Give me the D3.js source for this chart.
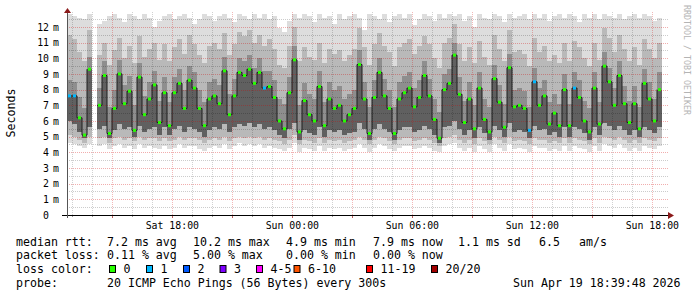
<!DOCTYPE html>
<html>
<head>
<meta charset="utf-8">
<script src="https://cdn.jsdelivr.net/npm/d3@7"></script>
<style>
  body { margin: 0; background: #fff; }
  text { font-family: "DejaVu Sans Mono", monospace; }
</style>
</head>
<body>
<script>
// median rtt per 15 min sample (ms), null = no data
const med = [
  7.6, 7.6, 6.2, 5.1, 9.3, null, 7.0, 8.9, 5.2, 6.8,
  9.0, 7.1, 7.9, 5.4, 8.8, 6.4, 7.4, 8.3, 5.9, 7.8,
  5.7, 7.8, 8.4, 6.8, 8.6, 8.1, 6.8, 5.7, 7.4, 7.6,
  7.1, 9.2, 6.4, 7.6, 9.1, 8.9, 9.3, 8.4, 9.1, 8.1,
  8.2, 7.5, 6.0, 5.5, 7.8, 9.9, 5.3, 7.3, 6.4, 6.0,
  8.2, 5.7, 7.4, 6.8, 7.0, 6.0, 6.4, 6.8, 9.6, 7.4,
  5.2, 7.5, 9.1, 7.6, 6.8, 5.2, 7.4, 7.8, 8.1, 6.9,
  7.5, 8.9, 7.6, 6.1, 4.9, 8.0, 8.4, 10.2, 7.7, 5.9,
  7.4, 5.5, 8.1, 6.1, 5.3, 8.7, 7.2, 5.6, 9.4, 6.9,
  7.0, 6.8, 5.4, 8.5, 7.0, 7.6, 5.8, 6.5, 5.7, 8.0,
  5.7, 8.1, 7.5, 6.0, 5.3, 8.1, 5.8, 9.5, 8.5, 7.0,
  8.9, 7.1, 5.9, 7.1, 5.5, 8.4, 7.4, 6.0, 8.0
];
// lost pings out of 20
const loss = [
  1, 1, 0, 0, 0, 0, 0, 0, 0, 0,
  0, 0, 0, 0, 0, 0, 0, 0, 0, 0,
  0, 0, 0, 0, 0, 0, 0, 0, 0, 0,
  0, 0, 0, 0, 0, 0, 0, 0, 0, 1,
  0, 0, 0, 0, 0, 0, 0, 0, 0, 0,
  0, 0, 0, 0, 0, 0, 0, 0, 0, 0,
  0, 0, 0, 0, 0, 0, 0, 0, 0, 0,
  0, 0, 0, 0, 0, 0, 0, 0, 0, 0,
  0, 0, 0, 0, 0, 0, 0, 0, 0, 0,
  0, 0, 1, 1, 0, 0, 0, 0, 0, 0,
  0, 1, 0, 0, 0, 0, 0, 0, 0, 0,
  0, 0, 0, 0, 0, 0, 0, 0, 0
];
// smoke: ping distribution per sample
const p100 = [
  12.8, 12.7, 12.6, 12.5, 12.8, null, 12.2, 12.4, 12.7, 12.8,
  12.6, 12.3, 12.8, 12.7, 12.5, 12.8, 12.6, 12.0, 12.4, 12.7,
  12.8, 12.5, 12.7, 12.8, 12.6, 12.2, 12.5, 12.8, 12.7, 12.4,
  12.7, 12.8, 12.6, 12.3, 12.8, 12.7, 12.5, 12.8, 12.6, 12.8,
  12.5, 12.7, 11.9, 11.7, 12.4, 12.8, 12.6, 12.8, 12.7, 12.3,
  12.8, 12.6, 12.7, 12.2, 12.8, 12.5, 12.7, 12.8, 12.6, 11.8,
  12.8, 12.7, 12.5, 12.8, 12.3, 12.7, 12.8, 12.6, 12.8, 12.1,
  12.5, 12.8, 12.7, 12.4, 12.8, 12.6, 12.8, 12.7, 12.8, 12.4,
  12.7, 12.0, 12.8, 12.6, 12.5, 12.8, 12.7, 12.3, 12.8, 12.6,
  12.7, 12.8, 12.5, 12.8, 12.6, 12.8, 12.4, 12.7, 12.8, 12.6,
  12.8, 12.7, 12.3, 12.8, 12.6, 12.8, 12.5, 12.8, 12.7, 12.6,
  12.8, 12.5, 12.7, 12.8, 12.6, 12.8, 12.7, 12.4, 12.6
];
const p90 = [
  11.5, 11.2, 10.4, 9.8, 11.8, null, 10.2, 11.0, 9.6, 10.5,
  11.3, 10.0, 10.8, 9.7, 11.4, 10.1, 10.6, 11.0, 9.9, 10.9,
  9.8, 10.7, 11.2, 10.3, 11.5, 10.9, 10.2, 9.7, 10.8, 11.0,
  10.6, 11.6, 10.2, 10.9, 11.7, 11.4, 11.8, 11.0, 11.5, 10.8,
  11.2, 10.6, 9.6, 9.4, 10.8, 12.0, 9.8, 10.7, 10.1, 9.9,
  11.0, 9.7, 10.6, 10.3, 10.5, 9.8, 10.2, 10.6, 11.9, 10.7,
  9.6, 10.9, 11.6, 10.8, 10.4, 9.5, 10.7, 11.0, 11.2, 10.3,
  10.8, 11.4, 10.9, 10.0, 9.4, 11.0, 11.3, 12.2, 10.9, 9.8,
  10.7, 9.7, 11.1, 10.1, 9.6, 11.5, 10.6, 9.8, 11.8, 10.4,
  10.5, 10.3, 9.5, 11.3, 10.4, 10.8, 9.8, 10.2, 9.7, 11.0,
  9.8, 11.1, 10.7, 10.0, 9.5, 11.0, 9.9, 11.9, 11.3, 10.4,
  11.5, 10.6, 9.8, 10.7, 9.6, 11.2, 10.6, 10.0, 11.0
];
const p75 = [
  8.6, 8.5, 7.5, 6.8, 10.1, null, 8.1, 9.8, 6.9, 8.0,
  9.9, 8.3, 8.9, 7.0, 9.7, 7.6, 8.5, 9.2, 7.3, 8.8,
  7.2, 8.8, 9.3, 8.0, 9.5, 9.1, 8.0, 7.2, 8.5, 8.7,
  8.3, 10.1, 7.7, 8.7, 10.0, 9.8, 10.2, 9.4, 10.0, 9.2,
  9.2, 8.6, 7.4, 7.1, 8.8, 10.8, 7.0, 8.4, 7.7, 7.4,
  9.2, 7.2, 8.5, 8.0, 8.2, 7.4, 7.7, 8.0, 10.5, 8.5,
  6.9, 8.6, 10.0, 8.7, 8.0, 6.9, 8.5, 8.9, 9.1, 8.1,
  8.6, 9.8, 8.7, 7.4, 6.6, 9.0, 9.3, 11.0, 8.8, 7.3,
  8.5, 7.0, 9.1, 7.4, 6.9, 9.6, 8.3, 7.1, 10.3, 8.0,
  8.1, 7.9, 6.9, 9.4, 8.1, 8.6, 7.2, 7.7, 7.1, 9.0,
  7.1, 9.1, 8.6, 7.3, 6.8, 9.1, 7.2, 10.4, 9.4, 8.1,
  9.8, 8.2, 7.3, 8.2, 6.9, 9.3, 8.5, 7.4, 9.1
];
const p25 = [
  6.0, 5.8, 5.3, 4.9, 5.6, null, 5.5, 5.7, 4.9, 5.4,
  5.8, 5.5, 5.6, 5.0, 5.7, 5.3, 5.5, 5.6, 5.1, 5.6,
  5.1, 5.5, 5.7, 5.3, 5.6, 5.5, 5.3, 5.0, 5.4, 5.6,
  5.5, 5.8, 5.3, 5.6, 5.8, 5.7, 5.9, 5.6, 5.8, 5.5,
  5.6, 5.4, 5.1, 4.9, 5.5, 5.9, 4.8, 5.4, 5.2, 5.1,
  5.6, 5.0, 5.4, 5.3, 5.4, 5.1, 5.2, 5.3, 5.9, 5.5,
  4.8, 5.5, 5.8, 5.5, 5.3, 4.8, 5.4, 5.6, 5.6, 5.3,
  5.4, 5.7, 5.5, 5.1, 4.6, 5.6, 5.7, 6.0, 5.5, 5.1,
  5.4, 4.9, 5.6, 5.2, 4.8, 5.7, 5.4, 5.0, 5.9, 5.3,
  5.4, 5.3, 4.9, 5.7, 5.4, 5.5, 5.1, 5.3, 5.0, 5.6,
  5.0, 5.6, 5.5, 5.2, 4.8, 5.6, 5.1, 5.9, 5.7, 5.4,
  5.7, 5.4, 5.1, 5.4, 5.0, 5.6, 5.4, 5.2, 5.6
];
const p10 = [
  5.1, 5.0, 4.8, 4.6, 5.0, null, 4.9, 5.0, 4.6, 4.9,
  5.0, 4.8, 4.9, 4.7, 5.0, 4.8, 4.9, 4.9, 4.7, 4.9,
  4.7, 4.8, 5.0, 4.8, 4.9, 4.9, 4.8, 4.6, 4.8, 4.9,
  4.8, 5.0, 4.7, 4.9, 5.0, 4.9, 5.0, 4.9, 5.0, 4.8,
  4.9, 4.8, 4.7, 4.5, 4.8, 5.1, 4.5, 4.8, 4.7, 4.6,
  4.9, 4.6, 4.8, 4.7, 4.8, 4.6, 4.7, 4.8, 5.0, 4.8,
  4.5, 4.8, 5.0, 4.9, 4.7, 4.5, 4.8, 4.9, 4.9, 4.7,
  4.8, 4.9, 4.8, 4.6, 4.4, 4.9, 5.0, 5.1, 4.8, 4.6,
  4.8, 4.5, 4.9, 4.7, 4.5, 5.0, 4.8, 4.6, 5.0, 4.7,
  4.8, 4.7, 4.5, 4.9, 4.8, 4.8, 4.6, 4.7, 4.6, 4.9,
  4.6, 4.9, 4.8, 4.7, 4.5, 4.9, 4.6, 5.0, 4.9, 4.8,
  5.0, 4.8, 4.6, 4.8, 4.6, 4.9, 4.8, 4.7, 4.9
];
const p0 = [
  4.6, 4.5, 4.4, 4.3, 4.5, null, 4.4, 4.5, 4.2, 4.4,
  4.5, 4.3, 4.4, 4.2, 4.5, 4.3, 4.4, 4.3, 4.2, 4.4,
  4.2, 4.3, 4.5, 4.3, 4.4, 4.4, 4.2, 4.1, 4.3, 4.4,
  4.3, 4.5, 4.2, 4.4, 4.6, 4.4, 4.5, 4.4, 4.5, 4.3,
  4.4, 4.3, 4.2, 4.1, 4.3, 4.6, 4.0, 4.3, 4.2, 4.1,
  4.4, 4.1, 4.3, 4.2, 4.3, 4.1, 4.2, 4.3, 4.5, 4.3,
  4.0, 4.3, 4.5, 4.4, 4.2, 4.1, 4.3, 4.4, 4.4, 4.2,
  4.3, 4.4, 4.3, 4.1, 4.0, 4.4, 4.5, 4.6, 4.3, 4.1,
  4.3, 4.0, 4.4, 4.2, 4.0, 4.5, 4.3, 4.1, 4.5, 4.2,
  4.3, 4.2, 4.0, 4.4, 4.3, 4.3, 4.1, 4.2, 4.1, 4.4,
  4.1, 4.4, 4.3, 4.2, 4.0, 4.4, 4.1, 4.5, 4.4, 4.3,
  4.5, 4.3, 4.1, 4.3, 4.1, 4.4, 4.3, 4.2, 4.4
];

const yTicks = [0, 1, 2, 3, 4, 5, 6, 7, 8, 9, 10, 11, 12];
const xLabelTimes = ['2026-04-18T18:00', '2026-04-19T00:00', '2026-04-19T06:00', '2026-04-19T12:00', '2026-04-19T18:00'];
const lossLabels = ['0', '1', '2', '3', '4-5', '6-10', '11-19', '20/20'];
const lossColors = ['#26ff00', '#00b8ff', '#0059ff', '#7e00ff', '#ff00ff', '#ff5500', '#ff0000', '#a10000'];
const lossBoxX = [109, 146, 183, 219.5, 256, 293.5, 366, 431];

const rttLine = [['median rtt:', 16], ['7.2 ms avg', 107], ['10.2 ms max', 193], ['4.9 ms min', 286], ['7.9 ms now', 373], ['1.1 ms sd', 458], ['6.5', 539], ['am/s', 579]];
const lossLine = [['packet loss:', 16], ['0.11 % avg', 107], ['5.00 % max', 193], ['0.00 % min', 286], ['0.00 % now', 373]];
const probeLine = [['probe:', 16], ['20 ICMP Echo Pings (56 Bytes) every 300s', 107], ['Sun Apr 19 18:39:48 2026', 513]];

const width = 697, height = 297,
  plotLeft = 67, plotRight = 667, plotBottom = 215, plotTop = 15;

const svg = d3.select('body').append('svg')
  .attr('width', width)
  .attr('height', height);

const parse = d3.timeParse('%Y-%m-%dT%H:%M');
const start = parse('2026-04-18T12:44'),
  end = parse('2026-04-19T18:44');

const x = d3.scaleTime().domain([start, end]).range([plotLeft, plotRight]);
const y = d3.scaleLinear().domain([0, 12.76]).range([plotBottom, plotTop]);

const rows = med.map((m, i) => ({
  t0: d3.timeMinute.offset(start, i * 15),
  t1: d3.timeMinute.offset(start, (i + 1) * 15),
  med: m, loss: loss[i],
  p0: p0[i], p10: p10[i], p25: p25[i], p75: p75[i], p90: p90[i], p100: p100[i]
}));
const valid = rows.filter(d => d.med != null);

// smoke, lightest (outer) first
const bands = [['p0', 'p100', '#dddddd'], ['p10', 'p90', '#b9b9b9'], ['p25', 'p75', '#8e8e8e'], ['p25', 'med', '#606060']];
bands.forEach(([lo, hi, c]) => {
  svg.append('g')
    .attr('shape-rendering', 'crispEdges')
    .selectAll('rect')
    .data(valid)
    .join('rect')
    .attr('x', d => x(d.t0))
    .attr('width', d => x(d.t1) - x(d.t0))
    .attr('y', d => y(d[hi]))
    .attr('height', d => y(d[lo]) - y(d[hi]))
    .attr('fill', c);
});

// grid on top of smoke
const grid = svg.append('g').attr('shape-rendering', 'crispEdges');
d3.range(0.5, 12.76, 0.5).forEach(v => {
  grid.append('line')
    .attr('x1', plotLeft).attr('x2', plotRight + 2)
    .attr('y1', Math.round(y(v)) + 0.5).attr('y2', Math.round(y(v)) + 0.5)
    .attr('stroke', v % 1 === 0 ? 'rgba(210,0,0,0.32)' : 'rgba(0,0,0,0.2)')
    .attr('stroke-dasharray', '1,1');
});
d3.timeHour.range(d3.timeHour.ceil(start), end).forEach(t => {
  const major = t.getHours() % 3 === 0;
  grid.append('line')
    .attr('x1', Math.round(x(t)) + 0.5).attr('x2', Math.round(x(t)) + 0.5)
    .attr('y1', plotTop - 3).attr('y2', plotBottom)
    .attr('stroke', major ? 'rgba(210,0,0,0.28)' : 'rgba(0,0,0,0.18)')
    .attr('stroke-dasharray', '1,1');
  grid.append('line')
    .attr('x1', Math.round(x(t)) + 0.5).attr('x2', Math.round(x(t)) + 0.5)
    .attr('y1', plotBottom).attr('y2', plotBottom + (major ? 3 : 2))
    .attr('stroke', major ? '#c06060' : '#999');
});

// median line
const medianLine = d3.line()
  .defined(d => d.med != null)
  .x(d => x(d.t0))
  .y(d => y(d.med))
  .curve(d3.curveStepAfter);
svg.append('path')
  .datum(rows)
  .attr('d', medianLine)
  .attr('fill', 'none')
  .attr('stroke', '#1e1e1e')
  .attr('stroke-width', 1);

svg.append('g')
  .selectAll('rect')
  .data(valid)
  .join('rect')
  .attr('x', d => x(d.t0) + 1)
  .attr('width', 3)
  .attr('y', d => y(d.med) - 1.5)
  .attr('height', 3)
  .attr('fill', d => lossColors[d.loss]);

// axes
svg.append('line')
  .attr('x1', plotLeft - 5).attr('x2', plotRight + 2)
  .attr('y1', plotBottom + 0.5).attr('y2', plotBottom + 0.5)
  .attr('stroke', '#000');
svg.append('line')
  .attr('x1', plotLeft + 0.5).attr('x2', plotLeft + 0.5)
  .attr('y1', plotBottom + 3).attr('y2', 12)
  .attr('stroke', '#555');
svg.append('path')
  .attr('d', `M${plotRight + 1},${plotBottom - 3}L${plotRight + 7},${plotBottom + 0.5}L${plotRight + 1},${plotBottom + 4}Z`)
  .attr('fill', '#8b1a1a');
svg.append('path')
  .attr('d', `M${plotLeft - 3},${plotTop - 2}L${plotLeft + 0.5},${plotTop - 7}L${plotLeft + 4},${plotTop - 2}Z`)
  .attr('fill', '#8b1a1a');

// y labels
const yLab = svg.append('g').attr('font-size', 9.85).attr('fill', '#000');
yTicks.forEach(v => {
  yLab.append('text')
    .attr('x', 49).attr('y', y(v) + 3.6)
    .attr('text-anchor', 'end')
    .text(v);
  if (v > 0) {
    yLab.append('text')
      .attr('x', 53).attr('y', y(v) + 3.6)
      .text('m');
  }
});

// x labels
const fmt = d3.timeFormat('%a %H:%M');
svg.append('g')
  .selectAll('text')
  .data(xLabelTimes.map(parse))
  .join('text')
  .attr('x', d => x(d))
  .attr('y', 228.5)
  .attr('text-anchor', 'middle')
  .attr('font-size', 9.85)
  .text(d => fmt(d));

svg.append('text')
  .attr('transform', 'translate(15,113) rotate(-90)')
  .attr('text-anchor', 'middle')
  .attr('font-size', 11.6)
  .text('Seconds');

svg.append('text')
  .attr('transform', 'translate(684,5) rotate(90)')
  .attr('font-size', 8.3)
  .attr('fill', '#b4b4b4')
  .text('RRDTOOL / TOBI OETIKER');

// legend
const legend = svg.append('g').attr('font-size', 11.6).attr('fill', '#000');
const addLine = (items, yy) => items.forEach(([s, xx]) => {
  legend.append('text').attr('x', xx).attr('y', yy).style('white-space', 'pre').text(s);
});
addLine(rttLine, 245.5);
addLine(lossLine, 259);
legend.append('text').attr('x', 16).attr('y', 273).text('loss color:');
lossLabels.forEach((s, i) => {
  legend.append('rect')
    .attr('x', lossBoxX[i] + 0.5).attr('y', 265.5)
    .attr('width', 6).attr('height', 7)
    .attr('fill', lossColors[i])
    .attr('stroke', '#000');
  legend.append('text').attr('x', lossBoxX[i] + 14.5).attr('y', 273).text(s);
});
addLine(probeLine, 286.5);
</script>
</body>
</html>
